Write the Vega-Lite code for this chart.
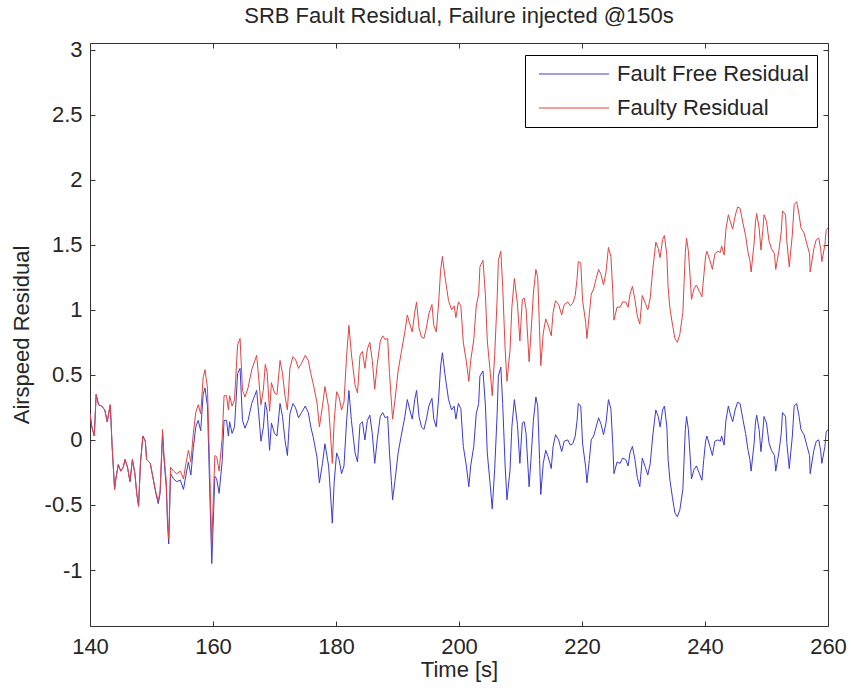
{
  "$schema": "https://vega.github.io/schema/vega-lite/v6.json",
  "width": 738,
  "height": 583,
  "autosize": "none",
  "padding": {"left": 90, "top": 43, "right": 23, "bottom": 64},
  "background": "white",
  "title": {"text": "SRB Fault Residual, Failure injected @150s", "frame": "group", "anchor": "middle", "fontSize": 22, "font": "Liberation Sans", "fontWeight": "normal", "color": "#262626", "offset": 11},
  "config": {"view": {"stroke": null}},
  "data": {"values": [
    {"t":140.0,"free":0.20,"faulty":0.20},{"t":140.3,"free":0.10,"faulty":0.10},{"t":140.7,"free":0.03,"faulty":0.03},{"t":141.0,"free":0.35,"faulty":0.35},{"t":141.4,"free":0.27,"faulty":0.27},{"t":141.9,"free":0.26,"faulty":0.26},{"t":142.4,"free":0.23,"faulty":0.23},{"t":142.8,"free":0.14,"faulty":0.14},{"t":143.3,"free":0.27,"faulty":0.27},{"t":143.6,"free":-0.05,"faulty":-0.05},{"t":144.0,"free":-0.38,"faulty":-0.38},{"t":144.2,"free":-0.30,"faulty":-0.30},{"t":144.6,"free":-0.19,"faulty":-0.19},{"t":145.0,"free":-0.24,"faulty":-0.24},{"t":145.4,"free":-0.21,"faulty":-0.21},{"t":145.7,"free":-0.15,"faulty":-0.15},{"t":146.1,"free":-0.21,"faulty":-0.21},{"t":146.5,"free":-0.32,"faulty":-0.32},{"t":146.9,"free":-0.15,"faulty":-0.15},{"t":147.3,"free":-0.26,"faulty":-0.26},{"t":147.6,"free":-0.41,"faulty":-0.41},{"t":147.9,"free":-0.51,"faulty":-0.51},{"t":148.2,"free":-0.18,"faulty":-0.18},{"t":148.6,"free":0.03,"faulty":0.03},{"t":149.0,"free":-0.01,"faulty":-0.01},{"t":149.2,"free":-0.15,"faulty":-0.15},{"t":149.8,"free":-0.18,"faulty":-0.18},
    {"t":150.2,"free":-0.28,"faulty":-0.28},{"t":150.7,"free":-0.41,"faulty":-0.40},{"t":151.1,"free":-0.49,"faulty":-0.47},{"t":151.4,"free":-0.41,"faulty":-0.39},{"t":151.8,"free":0.05,"faulty":0.08},{"t":152.0,"free":-0.13,"faulty":-0.10},{"t":152.4,"free":-0.36,"faulty":-0.32},{"t":152.6,"free":-0.64,"faulty":-0.60},{"t":152.8,"free":-0.80,"faulty":-0.76},{"t":153.1,"free":-0.26,"faulty":-0.21},{"t":153.6,"free":-0.30,"faulty":-0.24},{"t":154.1,"free":-0.32,"faulty":-0.26},{"t":154.7,"free":-0.31,"faulty":-0.24},{"t":155.2,"free":-0.38,"faulty":-0.30},{"t":155.6,"free":-0.27,"faulty":-0.18},{"t":156.0,"free":-0.17,"faulty":-0.08},{"t":156.4,"free":-0.27,"faulty":-0.17},{"t":156.8,"free":-0.06,"faulty":0.05},{"t":157.2,"free":0.10,"faulty":0.21},{"t":157.6,"free":0.15,"faulty":0.27},{"t":158.0,"free":0.07,"faulty":0.20},{"t":158.4,"free":0.35,"faulty":0.48},{"t":158.7,"free":0.40,"faulty":0.54},{"t":159.1,"free":0.26,"faulty":0.40},{"t":159.5,"free":-0.44,"faulty":-0.29},{"t":159.8,"free":-0.95,"faulty":-0.80},
    {"t":160.1,"free":-0.55,"faulty":-0.39},{"t":160.3,"free":-0.28,"faulty":-0.12},{"t":160.6,"free":-0.30,"faulty":-0.13},{"t":161.0,"free":-0.41,"faulty":-0.24},{"t":161.5,"free":-0.16,"faulty":0.02},{"t":161.8,"free":0.15,"faulty":0.34},{"t":162.2,"free":0.15,"faulty":0.34},{"t":162.5,"free":0.03,"faulty":0.23},{"t":162.7,"free":0.14,"faulty":0.34},{"t":163.1,"free":0.05,"faulty":0.26},{"t":163.5,"free":0.10,"faulty":0.31},{"t":164.0,"free":0.51,"faulty":0.73},{"t":164.4,"free":0.55,"faulty":0.78},{"t":164.8,"free":0.15,"faulty":0.38},{"t":165.2,"free":0.09,"faulty":0.33},{"t":165.7,"free":0.15,"faulty":0.40},{"t":166.3,"free":0.28,"faulty":0.54},{"t":167.1,"free":0.38,"faulty":0.65},{"t":167.4,"free":0.22,"faulty":0.49},{"t":167.8,"free":-0.01,"faulty":0.27},{"t":168.2,"free":0.10,"faulty":0.39},{"t":168.5,"free":0.29,"faulty":0.58},{"t":168.8,"free":0.22,"faulty":0.52},{"t":169.2,"free":-0.08,"faulty":0.22},{"t":169.5,"free":0.13,"faulty":0.44},
    {"t":170.0,"free":0.05,"faulty":0.36},{"t":170.4,"free":0.03,"faulty":0.35},{"t":170.9,"free":0.28,"faulty":0.61},{"t":171.3,"free":0.18,"faulty":0.51},{"t":171.7,"free":0.00,"faulty":0.34},{"t":172.1,"free":-0.12,"faulty":0.23},{"t":172.5,"free":0.20,"faulty":0.55},{"t":173.0,"free":0.28,"faulty":0.64},{"t":173.4,"free":0.25,"faulty":0.62},{"t":173.9,"free":0.17,"faulty":0.55},{"t":174.4,"free":0.21,"faulty":0.59},{"t":175.0,"free":0.26,"faulty":0.65},{"t":175.5,"free":0.21,"faulty":0.61},{"t":175.9,"free":0.10,"faulty":0.51},{"t":176.3,"free":0.02,"faulty":0.43},{"t":176.9,"free":-0.13,"faulty":0.29},{"t":177.3,"free":-0.33,"faulty":0.10},{"t":177.8,"free":-0.18,"faulty":0.26},{"t":178.2,"free":-0.03,"faulty":0.41},{"t":178.8,"free":-0.20,"faulty":0.25},{"t":179.1,"free":-0.41,"faulty":0.05},{"t":179.4,"free":-0.64,"faulty":-0.18},{"t":179.7,"free":-0.33,"faulty":0.14},
    {"t":180.1,"free":-0.10,"faulty":0.37},{"t":180.5,"free":-0.15,"faulty":0.33},{"t":180.9,"free":-0.26,"faulty":0.23},{"t":181.3,"free":-0.20,"faulty":0.29},{"t":181.7,"free":0.13,"faulty":0.63},{"t":182.1,"free":0.38,"faulty":0.88},{"t":182.5,"free":0.15,"faulty":0.66},{"t":183.1,"free":-0.10,"faulty":0.42},{"t":183.5,"free":-0.17,"faulty":0.36},{"t":183.9,"free":0.12,"faulty":0.65},{"t":184.3,"free":0.14,"faulty":0.68},{"t":184.7,"free":0.00,"faulty":0.55},{"t":185.1,"free":0.15,"faulty":0.70},{"t":185.5,"free":0.19,"faulty":0.75},{"t":185.9,"free":0.05,"faulty":0.61},{"t":186.3,"free":-0.18,"faulty":0.39},{"t":186.7,"free":0.00,"faulty":0.58},{"t":187.2,"free":0.18,"faulty":0.76},{"t":187.6,"free":0.21,"faulty":0.80},{"t":188.0,"free":0.17,"faulty":0.77},{"t":188.4,"free":0.18,"faulty":0.78},{"t":188.7,"free":-0.10,"faulty":0.51},{"t":189.0,"free":-0.31,"faulty":0.30},{"t":189.2,"free":-0.46,"faulty":0.16},{"t":189.6,"free":-0.31,"faulty":0.31},
    {"t":190.1,"free":-0.10,"faulty":0.53},{"t":190.6,"free":0.03,"faulty":0.67},{"t":191.2,"free":0.18,"faulty":0.83},{"t":191.6,"free":0.31,"faulty":0.96},{"t":192.0,"free":0.23,"faulty":0.89},{"t":192.4,"free":0.16,"faulty":0.83},{"t":192.8,"free":0.31,"faulty":0.98},{"t":193.1,"free":0.38,"faulty":1.06},{"t":193.5,"free":0.18,"faulty":0.86},{"t":193.9,"free":0.10,"faulty":0.79},{"t":194.3,"free":0.08,"faulty":0.78},{"t":194.7,"free":0.16,"faulty":0.86},{"t":195.1,"free":0.26,"faulty":0.97},{"t":195.6,"free":0.32,"faulty":1.04},{"t":195.9,"free":0.16,"faulty":0.88},{"t":196.3,"free":0.10,"faulty":0.83},{"t":196.7,"free":0.33,"faulty":1.06},{"t":197.0,"free":0.56,"faulty":1.30},{"t":197.3,"free":0.67,"faulty":1.41},{"t":197.7,"free":0.51,"faulty":1.26},{"t":198.3,"free":0.31,"faulty":1.07},{"t":198.8,"free":0.23,"faulty":1.00},{"t":199.2,"free":0.26,"faulty":1.03},{"t":199.5,"free":0.16,"faulty":0.94},{"t":199.9,"free":0.28,"faulty":1.06},
    {"t":200.3,"free":0.24,"faulty":1.03},{"t":200.7,"free":-0.05,"faulty":0.75},{"t":201.2,"free":-0.20,"faulty":0.60},{"t":201.6,"free":-0.36,"faulty":0.45},{"t":201.9,"free":-0.20,"faulty":0.61},{"t":202.4,"free":-0.05,"faulty":0.77},{"t":202.8,"free":0.20,"faulty":1.03},{"t":203.2,"free":0.28,"faulty":1.12},{"t":203.4,"free":0.49,"faulty":1.33},{"t":203.9,"free":0.53,"faulty":1.38},{"t":204.3,"free":0.26,"faulty":1.11},{"t":204.6,"free":-0.10,"faulty":0.76},{"t":205.1,"free":-0.36,"faulty":0.51},{"t":205.4,"free":-0.53,"faulty":0.34},{"t":205.8,"free":-0.23,"faulty":0.65},{"t":206.2,"free":0.20,"faulty":1.08},{"t":206.4,"free":0.49,"faulty":1.38},{"t":206.8,"free":0.56,"faulty":1.45},{"t":207.1,"free":0.28,"faulty":1.18},{"t":207.5,"free":-0.20,"faulty":0.70},{"t":207.8,"free":-0.46,"faulty":0.45},{"t":208.3,"free":-0.23,"faulty":0.69},{"t":208.6,"free":0.10,"faulty":1.02},{"t":209.0,"free":0.31,"faulty":1.24},{"t":209.5,"free":0.12,"faulty":1.05},{"t":209.9,"free":-0.18,"faulty":0.76},
    {"t":210.3,"free":0.13,"faulty":1.08},{"t":210.6,"free":0.14,"faulty":1.09},{"t":210.9,"free":0.05,"faulty":1.01},{"t":211.4,"free":-0.36,"faulty":0.60},{"t":211.7,"free":-0.15,"faulty":0.82},{"t":212.1,"free":0.15,"faulty":1.13},{"t":212.5,"free":0.33,"faulty":1.31},{"t":212.8,"free":0.26,"faulty":1.25},{"t":213.1,"free":-0.15,"faulty":0.84},{"t":213.3,"free":-0.42,"faulty":0.57},{"t":213.7,"free":-0.18,"faulty":0.82},{"t":214.1,"free":-0.08,"faulty":0.93},{"t":214.5,"free":-0.13,"faulty":0.88},{"t":215.0,"free":-0.22,"faulty":0.80},{"t":215.3,"free":-0.05,"faulty":0.98},{"t":215.7,"free":0.04,"faulty":1.07},{"t":216.2,"free":0.00,"faulty":1.04},{"t":216.7,"free":-0.09,"faulty":0.96},{"t":217.1,"free":-0.01,"faulty":1.04},{"t":217.7,"free":0.00,"faulty":1.06},{"t":218.1,"free":-0.04,"faulty":1.03},{"t":218.5,"free":-0.03,"faulty":1.05},{"t":218.9,"free":0.03,"faulty":1.11},{"t":219.2,"free":0.15,"faulty":1.24},{"t":219.4,"free":0.28,"faulty":1.37},{"t":219.8,"free":0.26,"faulty":1.36},
    {"t":220.1,"free":-0.03,"faulty":1.07},{"t":220.6,"free":-0.21,"faulty":0.90},{"t":220.8,"free":-0.33,"faulty":0.78},{"t":221.2,"free":-0.15,"faulty":0.97},{"t":221.5,"free":0.00,"faulty":1.12},{"t":221.9,"free":0.03,"faulty":1.16},{"t":222.3,"free":0.10,"faulty":1.24},{"t":222.7,"free":0.17,"faulty":1.31},{"t":223.1,"free":0.12,"faulty":1.27},{"t":223.5,"free":0.04,"faulty":1.19},{"t":223.9,"free":0.13,"faulty":1.29},{"t":224.3,"free":0.31,"faulty":1.48},{"t":224.7,"free":0.24,"faulty":1.41},{"t":225.0,"free":-0.03,"faulty":1.15},{"t":225.2,"free":-0.26,"faulty":0.92},{"t":225.7,"free":-0.17,"faulty":1.02},{"t":226.2,"free":-0.18,"faulty":1.02},{"t":226.6,"free":-0.14,"faulty":1.06},{"t":227.1,"free":-0.15,"faulty":1.06},{"t":227.5,"free":-0.20,"faulty":1.02},{"t":227.8,"free":-0.10,"faulty":1.12},{"t":228.2,"free":-0.05,"faulty":1.18},{"t":228.6,"free":-0.15,"faulty":1.08},{"t":229.0,"free":-0.29,"faulty":0.95},{"t":229.4,"free":-0.36,"faulty":0.89},{"t":229.8,"free":-0.14,"faulty":1.11},
    {"t":230.3,"free":-0.21,"faulty":1.05},{"t":230.7,"free":-0.27,"faulty":1.00},{"t":231.1,"free":-0.18,"faulty":1.09},{"t":231.5,"free":0.03,"faulty":1.31},{"t":231.8,"free":0.15,"faulty":1.43},{"t":232.0,"free":0.23,"faulty":1.52},{"t":232.4,"free":0.18,"faulty":1.47},{"t":232.7,"free":0.10,"faulty":1.40},{"t":233.1,"free":0.23,"faulty":1.54},{"t":233.4,"free":0.26,"faulty":1.57},{"t":233.8,"free":0.10,"faulty":1.42},{"t":234.0,"free":-0.15,"faulty":1.17},{"t":234.3,"free":-0.31,"faulty":1.01},{"t":234.7,"free":-0.44,"faulty":0.89},{"t":235.1,"free":-0.56,"faulty":0.78},{"t":235.5,"free":-0.59,"faulty":0.75},{"t":235.9,"free":-0.54,"faulty":0.81},{"t":236.4,"free":-0.38,"faulty":0.98},{"t":236.6,"free":-0.15,"faulty":1.21},{"t":236.8,"free":0.08,"faulty":1.44},{"t":237.0,"free":0.18,"faulty":1.55},{"t":237.3,"free":0.08,"faulty":1.45},{"t":237.6,"free":-0.14,"faulty":1.24},{"t":237.8,"free":-0.30,"faulty":1.08},{"t":238.2,"free":-0.23,"faulty":1.16},{"t":238.6,"free":-0.20,"faulty":1.19},{"t":239.1,"free":-0.26,"faulty":1.14},{"t":239.5,"free":-0.31,"faulty":1.10},{"t":239.8,"free":-0.15,"faulty":1.26},
    {"t":240.1,"free":-0.01,"faulty":1.41},{"t":240.3,"free":0.03,"faulty":1.45},{"t":240.8,"free":-0.05,"faulty":1.38},{"t":241.2,"free":-0.12,"faulty":1.31},{"t":241.6,"free":-0.01,"faulty":1.43},{"t":242.1,"free":0.00,"faulty":1.45},{"t":242.5,"free":-0.01,"faulty":1.44},{"t":242.7,"free":0.03,"faulty":1.49},{"t":243.1,"free":-0.04,"faulty":1.42},{"t":243.4,"free":0.15,"faulty":1.62},{"t":243.8,"free":0.26,"faulty":1.73},{"t":244.1,"free":0.20,"faulty":1.68},{"t":244.5,"free":0.14,"faulty":1.62},{"t":244.9,"free":0.23,"faulty":1.72},{"t":245.3,"free":0.29,"faulty":1.79},{"t":245.7,"free":0.28,"faulty":1.78},{"t":246.2,"free":0.15,"faulty":1.66},{"t":246.6,"free":0.05,"faulty":1.57},{"t":247.0,"free":-0.08,"faulty":1.44},{"t":247.3,"free":-0.15,"faulty":1.38},{"t":247.5,"free":-0.24,"faulty":1.29},{"t":248.0,"free":-0.02,"faulty":1.52},{"t":248.2,"free":0.13,"faulty":1.67},{"t":248.4,"free":0.19,"faulty":1.74},{"t":248.8,"free":0.08,"faulty":1.63},{"t":249.1,"free":-0.09,"faulty":1.46},{"t":249.4,"free":0.06,"faulty":1.61},{"t":249.6,"free":0.18,"faulty":1.73},
    {"t":250.0,"free":0.13,"faulty":1.68},{"t":250.4,"free":-0.02,"faulty":1.53},{"t":250.8,"free":-0.08,"faulty":1.47},{"t":251.3,"free":-0.12,"faulty":1.43},{"t":251.5,"free":-0.24,"faulty":1.31},{"t":252.0,"free":-0.10,"faulty":1.45},{"t":252.4,"free":0.05,"faulty":1.60},{"t":252.6,"free":0.21,"faulty":1.76},{"t":253.1,"free":0.18,"faulty":1.73},{"t":253.3,"free":-0.02,"faulty":1.53},{"t":253.7,"free":-0.22,"faulty":1.33},{"t":254.2,"free":0.03,"faulty":1.58},{"t":254.5,"free":0.26,"faulty":1.81},{"t":254.9,"free":0.28,"faulty":1.83},{"t":255.3,"free":0.18,"faulty":1.73},{"t":255.6,"free":0.08,"faulty":1.63},{"t":256.1,"free":0.04,"faulty":1.59},{"t":256.6,"free":-0.05,"faulty":1.50},{"t":257.0,"free":-0.12,"faulty":1.43},{"t":257.1,"free":-0.26,"faulty":1.29},{"t":257.7,"free":-0.08,"faulty":1.47},{"t":258.1,"free":-0.01,"faulty":1.54},{"t":258.5,"free":0.00,"faulty":1.55},{"t":258.8,"free":-0.08,"faulty":1.47},{"t":259.0,"free":-0.18,"faulty":1.37},{"t":259.5,"free":-0.05,"faulty":1.50},{"t":259.7,"free":0.06,"faulty":1.61},{"t":260.0,"free":0.08,"faulty":1.63}
  ]},
  "layer": [
    {
      "mark": {"type": "line", "strokeWidth": 1, "clip": true},
      "encoding": {
        "x": {"field": "t", "type": "quantitative", "scale": {"domain": [140, 260], "nice": false, "zero": false},
          "axis": {"orient": "bottom", "values": [140,160,180,200,220,240,260], "title": "Time [s]", "grid": false, "tickSize": -5, "tickColor": "#333", "domainColor": "#333", "labelFontSize": 22, "labelFont": "Liberation Sans", "labelColor": "#262626", "labelPadding": 15, "titleFontSize": 22, "titleFont": "Liberation Sans", "titleFontWeight": "normal", "titleColor": "#262626", "titlePadding": 2, "labelFlush": false}},
        "y": {"field": "free", "type": "quantitative", "scale": {"domain": [-1.43, 3.05], "nice": false, "zero": false},
          "axis": {"orient": "left", "values": [-1,-0.5,0,0.5,1,1.5,2,2.5,3], "labelExpr": "datum.value < 0 ? '-' + format(-datum.value, '~g') : format(datum.value, '~g')", "title": "Airspeed Residual", "grid": false, "tickSize": -5, "tickColor": "#333", "domainColor": "#333", "labelFontSize": 22, "labelFont": "Liberation Sans", "labelColor": "#262626", "labelPadding": 13, "titleFontSize": 22, "titleFont": "Liberation Sans", "titleFontWeight": "normal", "titleColor": "#262626", "titlePadding": 11, "labelFlush": false}},
        "color": {"datum": "Fault Free Residual", "type": "nominal",
          "scale": {"domain": ["Fault Free Residual", "Faulty Residual"], "range": ["#3b3bd0", "#e04444"]},
          "legend": {"orient": "none", "legendX": 435, "legendY": 12, "title": null, "strokeColor": "#000", "fillColor": "white", "padding": 8, "symbolType": "M-3.5,0H3.5", "symbolSize": 400, "symbolOffset": 30, "symbolStrokeWidth": 1, "labelFontSize": 22, "labelFont": "Liberation Sans", "labelColor": "#262626", "labelOffset": 32, "labelLimit": 400, "rowPadding": 12}}
      }
    },
    {
      "mark": {"type": "line", "strokeWidth": 1, "clip": true},
      "encoding": {
        "x": {"field": "t", "type": "quantitative", "axis": {"orient": "top", "values": [140,160,180,200,220,240,260], "labels": false, "title": null, "grid": false, "tickSize": -5, "tickColor": "#333", "domainColor": "#333"}},
        "y": {"field": "faulty", "type": "quantitative", "axis": {"orient": "right", "values": [-1,-0.5,0,0.5,1,1.5,2,2.5,3], "labels": false, "title": null, "grid": false, "tickSize": -5, "tickColor": "#333", "domainColor": "#333"}},
        "color": {"datum": "Faulty Residual", "type": "nominal"}
      }
    }
  ],
  "resolve": {"axis": {"x": "independent", "y": "independent"}}
}
